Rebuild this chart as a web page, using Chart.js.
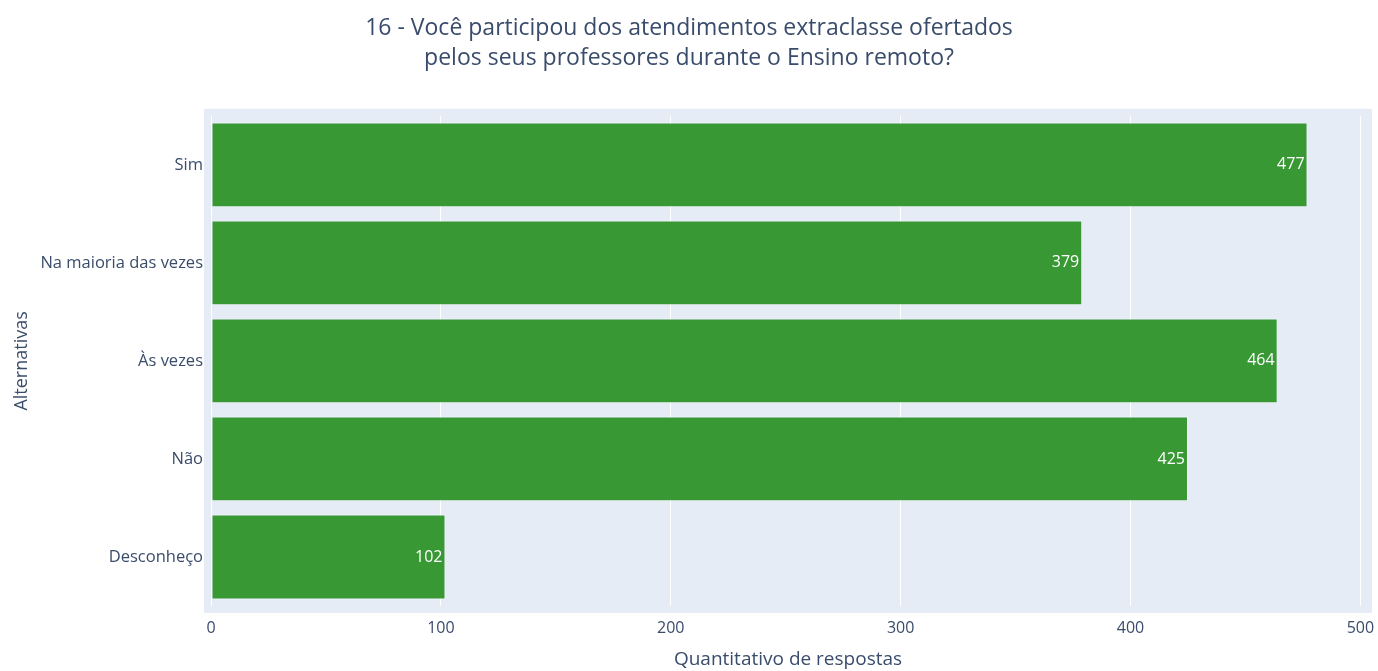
<!DOCTYPE html>
<html>
<head>
<meta charset="utf-8">
<script src="https://cdn.jsdelivr.net/npm/chart.js@4"></script>
<style>
  html, body { margin: 0; padding: 0; background: #fff; }
  #wrap { width: 1378px; height: 671px; }
</style>
</head>
<body>
<div id="wrap"><canvas id="graf"></canvas></div>
<script>
// dados
const alternativas = ['Sim', 'Na maioria das vezes', 'Às vezes', 'Não', 'Desconheço'];
const respostas = [477, 379, 464, 425, 102];
const ticksX = [0, 100, 200, 300, 400, 500];

const corTexto = '#3a4c6b';
const fonte = "'Open Sans', 'Noto Sans', sans-serif";

// fundo do grafico (estilo plotly), um pouco maior que a area
const fundo = {
  id: 'fundo',
  beforeDraw(chart) {
    const a = chart.chartArea;
    const c = chart.ctx;
    c.save();
    c.fillStyle = '#e5ecf6';
    c.fillRect(a.left - 7, a.top - 7, a.right - a.left + 14, a.bottom - a.top + 14);
    c.restore();
  }
};

// valores dentro das barras
const rotulos = {
  id: 'rotulos',
  afterDatasetsDraw(chart) {
    const c = chart.ctx;
    const meta = chart.getDatasetMeta(0);
    c.save();
    c.fillStyle = '#ffffff';
    c.font = '16px ' + fonte;
    c.textAlign = 'right';
    c.textBaseline = 'middle';
    meta.data.forEach((bar, i) => {
      c.fillText(respostas[i], bar.x - 3, bar.y);
    });
    c.restore();
  }
};

new Chart(document.getElementById('graf'), {
  type: 'bar',
  data: {
    labels: alternativas,
    datasets: [{
      data: respostas,
      backgroundColor: '#389834',
      borderColor: 'rgba(255,255,255,0.45)',
      borderWidth: 1,
      borderSkipped: false,
      categoryPercentage: 0.865,
      barPercentage: 1
    }]
  },
  options: {
    indexAxis: 'y',
    responsive: true,
    maintainAspectRatio: false,
    animation: false,
    layout: { padding: 0 },
    plugins: {
      legend: { display: false },
      tooltip: { enabled: false },
      title: {
        display: true,
        text: ['16 - Você participou dos atendimentos extraclasse ofertados',
               'pelos seus professores durante o Ensino remoto?'],
        color: corTexto,
        font: { family: fonte, size: 23, weight: 'normal', lineHeight: 1.3 },
        padding: { top: 14, bottom: 42 }
      }
    },
    scales: {
      x: {
        min: 0,
        max: 502,
        afterBuildTicks: (s) => { s.ticks = ticksX.map(v => ({ value: v })); },
        afterFit: (s) => { s.height = 65; s.paddingLeft = 0; s.paddingRight = 13; },
        grid: { color: '#ffffff', lineWidth: 1, drawTicks: false },
        border: { display: false },
        ticks: { color: corTexto, font: { family: fonte, size: 16 }, padding: 13 },
        title: {
          display: true,
          text: 'Quantitativo de respostas',
          color: corTexto,
          font: { family: fonte, size: 19 },
          padding: { top: 0, bottom: 0 }
        }
      },
      y: {
        afterFit: (s) => { s.width = 211; },
        grid: { display: false, drawTicks: false },
        border: { display: false },
        ticks: { color: corTexto, font: { family: fonte, size: 16.5 }, padding: 8 },
        title: {
          display: true,
          text: 'Alternativas',
          color: corTexto,
          font: { family: fonte, size: 18 },
          padding: { top: 11, bottom: 0 }
        }
      }
    }
  },
  plugins: [fundo, rotulos]
});
</script>
</body>
</html>
